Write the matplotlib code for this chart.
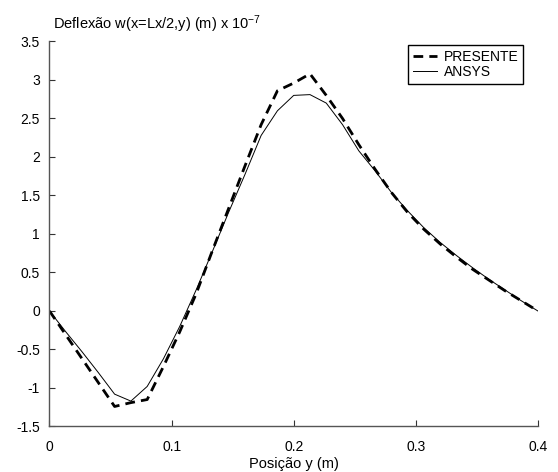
import matplotlib
matplotlib.use('Agg')
import matplotlib.pyplot as plt
import numpy as np

plt.rcParams['font.family'] = ['Liberation Sans', 'DejaVu Sans']
plt.rcParams['mathtext.default'] = 'regular'

# posicao y (m), 31 pontos de 0 a 0.4
pos_y = np.linspace(0, 0.4, 31)

presente = [0, -0.31, -0.62, -0.93, -1.24, -1.19, -1.15, -0.72, -0.27, 0.22,
            0.78, 1.33, 1.88, 2.42, 2.86, 2.96, 3.08, 2.80, 2.50, 2.16,
            1.84, 1.54, 1.28, 1.06, 0.87, 0.70, 0.54, 0.40, 0.26, 0.13, 0.0]
ansys = [0, -0.27, -0.53, -0.80, -1.08, -1.17, -0.98, -0.62, -0.20, 0.27,
         0.77, 1.28, 1.77, 2.28, 2.60, 2.80, 2.81, 2.70, 2.42, 2.08,
         1.82, 1.54, 1.30, 1.08, 0.89, 0.72, 0.56, 0.41, 0.27, 0.13, 0.0]

xticks = [0, 0.1, 0.2, 0.3, 0.4]
xticklabels = ['0', '0.1', '0.2', '0.3', '0.4']
yticks = [3.5, 3, 2.5, 2, 1.5, 1, 0.5, 0, -0.5, -1, -1.5]
yticklabels = ['3.5', '3', '2.5', '2', '1.5', '1', '0.5', '0', '-0.5', '-1', '-1.5']

fig = plt.figure(figsize=(5.58, 4.72), dpi=100)
ax = fig.add_axes([0.0887, 0.0964, 0.8753, 0.8157])

ax.plot(pos_y, presente, color='black', lw=2.0, ls=(0, (3.5, 2.2)), label='PRESENTE')
ax.plot(pos_y, ansys, color='black', lw=0.7, label='ANSYS')

ax.set_xlim(0, 0.4)
ax.set_ylim(-1.5, 3.5)
ax.set_xticks(xticks)
ax.set_xticklabels(xticklabels)
ax.set_yticks(yticks)
ax.set_yticklabels(yticklabels)
ax.tick_params(direction='in', length=4, width=0.8, labelsize=10, color='#333333')
ax.tick_params(axis='x', pad=10)
ax.tick_params(axis='y', pad=7)
for s in ['top', 'right']:
    ax.spines[s].set_visible(False)
for s in ['left', 'bottom']:
    ax.spines[s].set_color('#555555')
    ax.spines[s].set_linewidth(1.0)

ax.set_xlabel('Posição y (m)', fontsize=10.5, labelpad=2)
fig.text(53 / 558, 1 - 24 / 472, 'Deflexão w(x=Lx/2,y) (m) x 10$^{-7}$',
         fontsize=10.5, va='center', ha='left')

leg = ax.legend(loc='upper right', bbox_to_anchor=(0.97, 0.99), fontsize=10,
                fancybox=False, framealpha=1, edgecolor='black',
                handlelength=1.7, handletextpad=0.5, borderpad=0.35,
                labelspacing=0.05, borderaxespad=0)
leg.get_frame().set_linewidth(1.0)

fig.savefig('out.png', dpi=100)
